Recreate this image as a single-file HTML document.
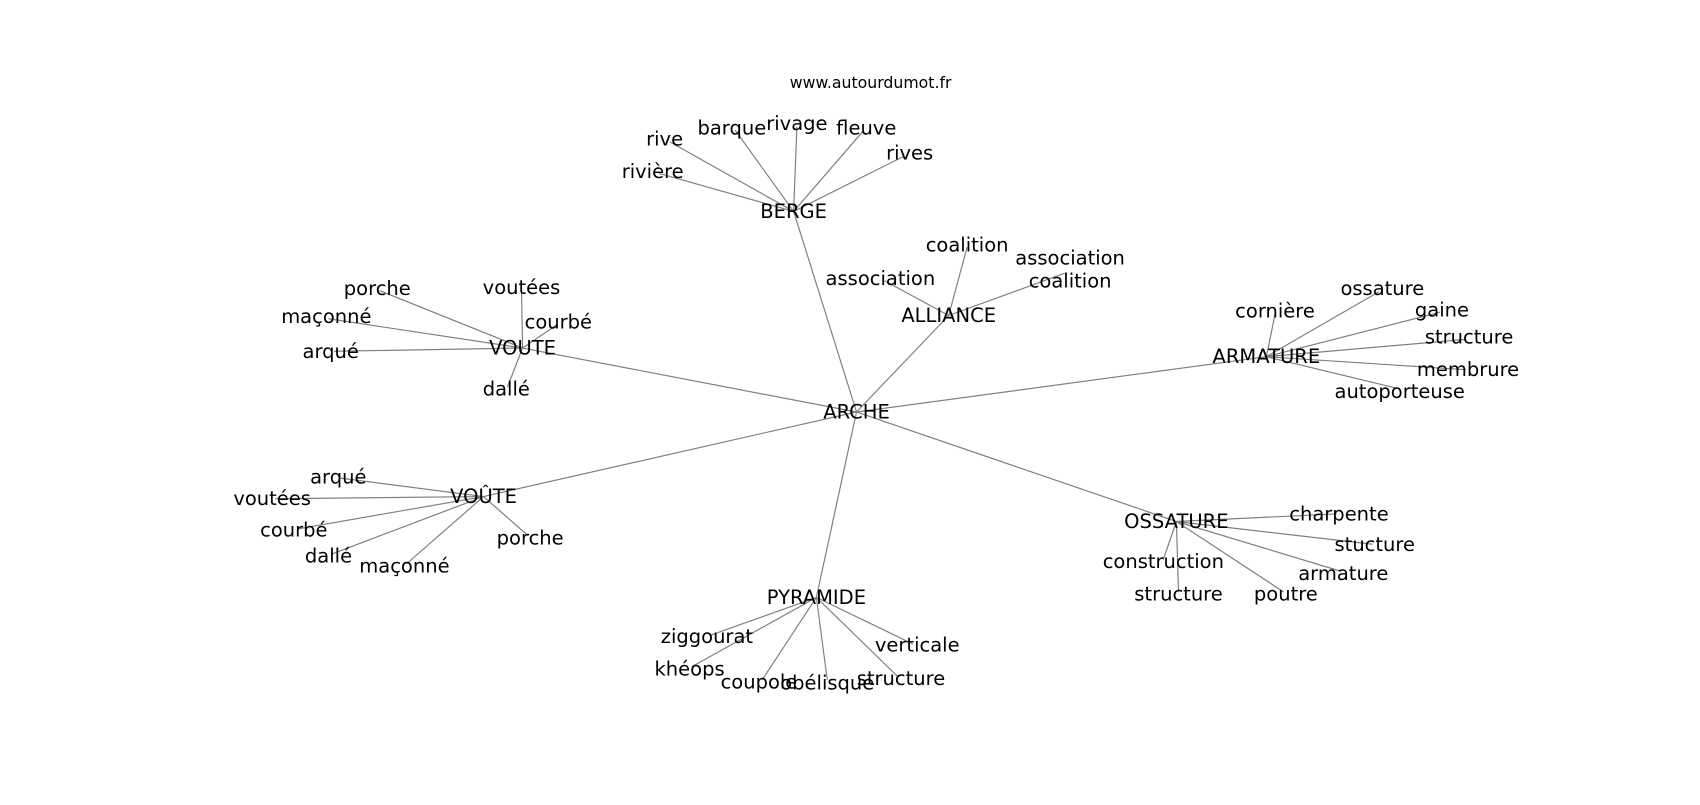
<!DOCTYPE html>
<html><head><meta charset="utf-8"><style>
html,body{margin:0;padding:0;background:#fff;}
svg text{font-family:"DejaVu Sans","Liberation Sans",sans-serif;font-size:18px;fill:#000;text-anchor:middle;dominant-baseline:central;}
</style></head><body>
<svg width="1700" height="800" viewBox="0 0 1700 800" xmlns="http://www.w3.org/2000/svg">
<g transform="scale(1.0842)">
<g stroke="#808080" stroke-width="1.1" fill="none">
<line x1="790" y1="380" x2="732" y2="195"/>
<line x1="790" y1="380" x2="875" y2="291"/>
<line x1="790" y1="380" x2="482" y2="321"/>
<line x1="790" y1="380" x2="1168" y2="329"/>
<line x1="790" y1="380" x2="446" y2="458"/>
<line x1="790" y1="380" x2="1085" y2="481"/>
<line x1="790" y1="380" x2="753" y2="551"/>
<line x1="732" y1="195" x2="618" y2="131"/>
<line x1="732" y1="195" x2="678" y2="120"/>
<line x1="732" y1="195" x2="735" y2="117"/>
<line x1="732" y1="195" x2="796" y2="121"/>
<line x1="732" y1="195" x2="834" y2="144"/>
<line x1="732" y1="195" x2="608" y2="160"/>
<line x1="875" y1="291" x2="892" y2="228"/>
<line x1="875" y1="291" x2="816" y2="259"/>
<line x1="875" y1="291" x2="982" y2="252"/>
<line x1="482" y1="321" x2="350" y2="268"/>
<line x1="482" y1="321" x2="481" y2="268"/>
<line x1="482" y1="321" x2="303" y2="294"/>
<line x1="482" y1="321" x2="513" y2="300"/>
<line x1="482" y1="321" x2="308" y2="324"/>
<line x1="482" y1="321" x2="468" y2="357"/>
<line x1="1168" y1="329" x2="1176" y2="290"/>
<line x1="1168" y1="329" x2="1272" y2="269"/>
<line x1="1168" y1="329" x2="1328" y2="288"/>
<line x1="1168" y1="329" x2="1352" y2="313"/>
<line x1="1168" y1="329" x2="1352" y2="341"/>
<line x1="1168" y1="329" x2="1288" y2="358"/>
<line x1="446" y1="458" x2="314" y2="441"/>
<line x1="446" y1="458" x2="254" y2="460"/>
<line x1="446" y1="458" x2="274" y2="488"/>
<line x1="446" y1="458" x2="306" y2="511"/>
<line x1="446" y1="458" x2="375" y2="520"/>
<line x1="446" y1="458" x2="487" y2="494"/>
<line x1="1085" y1="481" x2="1233" y2="474"/>
<line x1="1085" y1="481" x2="1266" y2="502"/>
<line x1="1085" y1="481" x2="1237" y2="527"/>
<line x1="1085" y1="481" x2="1184" y2="546"/>
<line x1="1085" y1="481" x2="1087" y2="546"/>
<line x1="1085" y1="481" x2="1073" y2="516"/>
<line x1="753" y1="551" x2="655" y2="586"/>
<line x1="753" y1="551" x2="638" y2="615"/>
<line x1="753" y1="551" x2="703" y2="627"/>
<line x1="753" y1="551" x2="763" y2="627"/>
<line x1="753" y1="551" x2="828" y2="624"/>
<line x1="753" y1="551" x2="842" y2="594"/>
</g>
<text x="803" y="76" style="font-size:14.5px">www.autourdumot.fr</text>
<text x="790" y="380">ARCHE</text>
<text x="732" y="195">BERGE</text>
<text x="613" y="128">rive</text>
<text x="675" y="118">barque</text>
<text x="735" y="114">rivage</text>
<text x="799" y="118">fleuve</text>
<text x="839" y="141">rives</text>
<text x="602" y="158">rivière</text>
<text x="875" y="291">ALLIANCE</text>
<text x="892" y="226">coalition</text>
<text x="812" y="257">association</text>
<text x="987" y="238">association</text>
<text x="987" y="259">coalition</text>
<text x="482" y="321">VOUTE</text>
<text x="348" y="266">porche</text>
<text x="481" y="265">voutées</text>
<text x="301" y="292">maçonné</text>
<text x="515" y="297">courbé</text>
<text x="305" y="324">arqué</text>
<text x="467" y="359">dallé</text>
<text x="1168" y="329">ARMATURE</text>
<text x="1176" y="287">cornière</text>
<text x="1275" y="266">ossature</text>
<text x="1330" y="286">gaine</text>
<text x="1355" y="311">structure</text>
<text x="1354" y="341">membrure</text>
<text x="1291" y="361">autoporteuse</text>
<text x="446" y="458">VOÛTE</text>
<text x="312" y="440">arqué</text>
<text x="251" y="460">voutées</text>
<text x="271" y="489">courbé</text>
<text x="303" y="513">dallé</text>
<text x="373" y="522">maçonné</text>
<text x="489" y="496">porche</text>
<text x="1085" y="481">OSSATURE</text>
<text x="1235" y="474">charpente</text>
<text x="1268" y="502">stucture</text>
<text x="1239" y="529">armature</text>
<text x="1186" y="548">poutre</text>
<text x="1087" y="548">structure</text>
<text x="1073" y="518">construction</text>
<text x="753" y="551">PYRAMIDE</text>
<text x="652" y="587">ziggourat</text>
<text x="636" y="617">khéops</text>
<text x="700" y="629">coupole</text>
<text x="763" y="630">obélisque</text>
<text x="831" y="626">structure</text>
<text x="846" y="595">verticale</text>
</g>
</svg>
</body></html>
